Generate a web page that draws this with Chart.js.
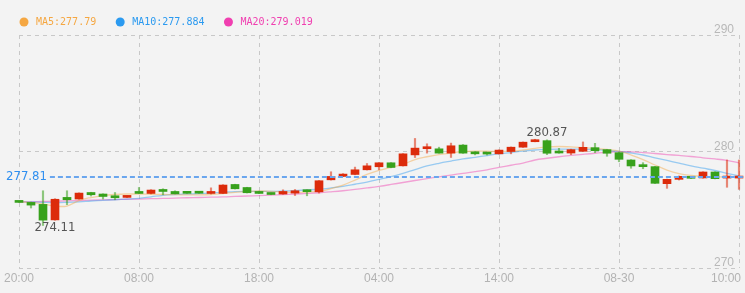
<!DOCTYPE html>
<html><head><meta charset="utf-8">
<script src="https://cdn.jsdelivr.net/npm/chart.js@4.4.1/dist/chart.umd.min.js"></script>
<style>html,body{margin:0;padding:0;background:#f3f3f3;overflow:hidden}</style>
</head><body>
<canvas id="c" width="745" height="293"></canvas>
<script>
// ---- data ----
const tickLabels = ['20:00','08:00','18:00','04:00','14:00','08-30','10:00'];
const opens  = [275.65,275.63,275.46,274.13,276.06,275.92,276.48,276.35,276.14,276.06,
                276.45,276.40,276.71,276.57,276.45,276.44,276.40,276.40,277.17,276.91,
                276.57,276.43,276.35,276.43,276.69,276.54,277.57,277.86,278.03,278.43,
                278.69,279.03,278.77,279.71,280.24,280.23,279.86,280.55,279.97,279.88,
                279.80,280.00,280.37,280.84,280.93,280.02,279.87,280.02,280.33,280.16,
                279.90,279.27,278.79,278.70,277.24,277.61,277.80,277.73,278.24,277.72,277.72];
const highs  = [275.67,275.65,276.63,275.95,276.63,276.45,276.50,276.37,276.48,276.19,
                276.91,276.72,276.80,276.63,276.46,276.45,276.88,277.15,277.19,276.93,
                276.59,276.45,276.71,276.74,276.71,277.51,278.26,278.10,278.66,278.97,
                279.05,279.05,279.82,281.12,280.66,280.37,280.72,280.60,279.99,279.90,
                280.14,280.39,280.82,281.05,281.00,280.27,280.20,280.82,280.70,280.17,
                279.95,279.30,279.04,278.72,277.63,277.90,277.82,278.26,278.26,279.27,279.27];
const lows   = [275.62,275.15,273.65,274.10,275.43,275.90,276.18,275.92,275.86,276.04,
                276.38,276.36,276.29,276.36,276.40,276.41,276.35,276.38,276.78,276.44,
                276.38,276.29,276.33,276.22,276.20,276.43,277.55,277.84,278.00,278.41,
                278.43,278.60,278.75,279.48,279.86,279.85,279.49,279.84,279.71,279.70,
                279.78,279.80,280.35,280.83,279.73,279.85,279.73,280.00,279.90,279.59,
                279.12,278.56,278.52,277.25,276.84,277.55,277.68,277.71,277.65,276.93,276.75];
const closes = [275.63,275.40,274.11,275.90,275.86,276.43,276.29,276.14,276.03,276.17,
                276.40,276.69,276.57,276.37,276.41,276.42,276.46,277.12,276.80,276.46,
                276.40,276.31,276.57,276.63,276.55,277.49,277.86,278.06,278.43,278.77,
                279.03,278.63,279.80,280.29,280.27,279.86,280.49,279.86,279.80,279.78,
                280.12,280.37,280.80,280.87,279.85,279.87,280.16,280.36,280.07,279.85,
                279.33,278.76,278.70,277.27,277.61,277.87,277.70,278.24,277.67,277.78,277.81];
const ma5  = [275.67,275.64,275.49,275.32,275.32,275.79,276.05,276.22,276.31,276.35,
              276.35,276.33,276.31,276.29,276.28,276.28,276.31,276.39,276.50,276.57,
              276.61,276.57,276.52,276.50,276.52,276.57,276.82,277.12,277.55,278.03,
              278.37,278.63,278.90,279.31,279.55,279.74,279.87,280.00,280.04,280.02,
              280.00,280.03,280.13,280.27,280.39,280.43,280.39,280.34,280.26,280.17,
              280.04,279.70,279.31,278.84,278.41,278.11,277.94,277.85,277.83,277.81,277.79];
const ma10 = [275.67,275.67,275.64,275.62,275.64,275.68,275.75,275.81,275.86,275.92,
              275.98,276.11,276.24,276.31,276.35,276.39,276.44,276.50,276.56,276.58,
              276.57,276.58,276.61,276.65,276.70,276.76,276.87,277.01,277.19,277.38,
              277.61,277.85,278.13,278.45,278.76,278.99,279.18,279.36,279.50,279.65,
              279.79,279.91,280.04,280.13,280.18,280.20,280.20,280.19,280.17,280.10,
              280.00,279.87,279.70,279.46,279.23,279.00,278.77,278.57,278.37,278.13,277.90];
const ma20 = [275.67,275.68,275.71,275.73,275.77,275.79,275.82,275.85,275.87,275.90,
              275.92,275.95,275.97,276.00,276.03,276.05,276.08,276.10,276.14,276.18,
              276.21,276.25,276.30,276.35,276.40,276.46,276.54,276.63,276.74,276.87,
              277.01,277.17,277.34,277.51,277.67,277.83,277.98,278.13,278.27,278.43,
              278.63,278.82,279.01,279.27,279.42,279.55,279.66,279.76,279.85,279.92,
              279.99,279.97,279.91,279.83,279.74,279.66,279.57,279.46,279.36,279.23,279.02];
const maNames  = ['MA5','MA10','MA20'];
const maValues = ['277.79','277.884','279.019'];
const yTicks = [270, 280, 290];

// ---- styles ----
const UP = '#dc2b0b', DOWN = '#37a11c';
const UPW = 'rgba(220,43,11,0.55)', DOWNW = 'rgba(55,161,28,0.55)';
const MA_COLORS = ['#f5a742','#2b9af0','#f03fb0'];
const MA_LINE = ['rgba(245,167,66,0.45)','rgba(43,154,240,0.45)','rgba(240,63,176,0.45)'];
const GRID = '#c8c8c8';
const MARK_FONT = '13px "DejaVu Sans Condensed", "Liberation Sans", sans-serif';

const idx = closes.map((_, i) => i);
const up = i => closes[i] >= opens[i];

const overlay = {
  id: 'overlay',
  beforeDraw(chart) {
    const c = chart.ctx; c.save(); c.fillStyle = '#f3f3f3';
    c.fillRect(0, 0, chart.width, chart.height); c.restore();
  },
  afterDatasetsDraw(chart) {
    const c = chart.ctx, xs = chart.scales.x, ys = chart.scales.y;
    c.save();
    // last price line
    const last = closes[closes.length - 1];
    const py = Math.round(ys.getPixelForValue(last));
    c.font = MARK_FONT;
    c.fillStyle = '#2f8ff0'; c.textAlign = 'left'; c.textBaseline = 'middle';
    const lbl = last.toFixed(2);
    c.fillText(lbl, 6, py);
    const tw = c.measureText(lbl).width;
    c.strokeStyle = '#6aa6ee'; c.lineWidth = 2; c.setLineDash([5, 3]);
    c.beginPath(); c.moveTo(6 + tw + 3, py); c.lineTo(chart.width, py); c.stroke();
    c.setLineDash([]);
    // max / min close markers
    let mi = 0, ma = 0;
    closes.forEach((v, i) => { if (v < closes[mi]) mi = i; if (v > closes[ma]) ma = i; });
    c.fillStyle = '#555'; c.textAlign = 'center';
    c.textBaseline = 'top';
    c.fillText(closes[mi].toFixed(2), xs.getPixelForValue(mi) + 12, ys.getPixelForValue(closes[mi]) + 1);
    c.textBaseline = 'bottom';
    c.fillText(closes[ma].toFixed(2), xs.getPixelForValue(ma) + 12, ys.getPixelForValue(closes[ma]) - 2);
    c.restore();
  },
  afterDraw(chart) {
    const c = chart.ctx, xs = chart.scales.x;
    c.save();
    // x tick labels
    c.font = '12px "Liberation Sans", Arial, sans-serif';
    c.fillStyle = '#b3b3b3'; c.textAlign = 'center'; c.textBaseline = 'middle';
    tickLabels.forEach((t, j) => {
      const w = c.measureText(t).width;
      let x = xs.getPixelForValue(j * 10);
      x = Math.min(x, chart.width - 4 - w / 2);
      x = Math.max(x, w / 2 + 2);
      c.fillText(t, x, 278.5);
    });
    // legend
    c.font = '10px "DejaVu Sans Mono", monospace';
    c.textBaseline = 'middle'; c.textAlign = 'left';
    let x = 24;
    maNames.forEach((n, k) => {
      c.fillStyle = MA_COLORS[k];
      c.beginPath(); c.arc(x, 22, 4.5, 0, Math.PI * 2); c.fill();
      const s = n + ':' + maValues[k];
      c.fillText(s, x + 12, 22.5);
      x = x + 12 + c.measureText(s).width + 24;
    });
    c.restore();
  }
};

new Chart(document.getElementById('c'), {
  type: 'bar',
  data: {
    datasets: [
      { type: 'bar', label: 'body', order: 1, grouped: false, clip: false,
        data: idx.map(i => ({ x: i, y: [opens[i], closes[i]] })),
        backgroundColor: idx.map(i => up(i) ? UP : DOWN),
        barThickness: 8, minBarLength: 2 },
      { type: 'bar', label: 'wick', order: 2, grouped: false, clip: false,
        data: idx.map(i => ({ x: i, y: [lows[i], highs[i]] })),
        backgroundColor: idx.map(i => up(i) ? UPW : DOWNW),
        barThickness: 1.5 },
      { type: 'line', label: 'MA5', order: 3, data: idx.map(i => ({ x: i, y: ma5[i] })),
        borderColor: MA_LINE[0], borderWidth: 1.3, pointRadius: 0, tension: 0.4, fill: false },
      { type: 'line', label: 'MA10', order: 4, data: idx.map(i => ({ x: i, y: ma10[i] })),
        borderColor: MA_LINE[1], borderWidth: 1.3, pointRadius: 0, tension: 0.4, fill: false },
      { type: 'line', label: 'MA20', order: 5, data: idx.map(i => ({ x: i, y: ma20[i] })),
        borderColor: MA_LINE[2], borderWidth: 1.3, pointRadius: 0, tension: 0.4, fill: false }
    ]
  },
  options: {
    responsive: false, animation: false, devicePixelRatio: 1,
    layout: { padding: { left: 19, right: 6, top: 35, bottom: 25 } },
    plugins: { legend: { display: false }, tooltip: { enabled: false } },
    scales: {
      x: { type: 'linear', min: 0, max: 60, offset: false,
           grid: { color: GRID, drawTicks: false, offset: false, lineWidth: 1 },
           border: { display: false, dash: [4, 4] },
           ticks: { display: false, stepSize: 10 },
           afterFit(s) { s.height = 0; } },
      y: { type: 'linear', position: 'right', min: yTicks[0], max: yTicks[yTicks.length - 1],
           grid: { color: GRID, drawTicks: false, lineWidth: 1 },
           border: { display: false, dash: [4, 4] },
           afterBuildTicks(s) { s.ticks = yTicks.map(v => ({ value: v })); },
           ticks: { mirror: true, padding: -5, labelOffset: -5, color: '#b8b8b8',
                    font: { family: '"Liberation Sans", Arial, sans-serif', size: 12 } },
           afterFit(s) { s.width = 0; } }
    }
  },
  plugins: [overlay]
});
</script>
</body></html>
